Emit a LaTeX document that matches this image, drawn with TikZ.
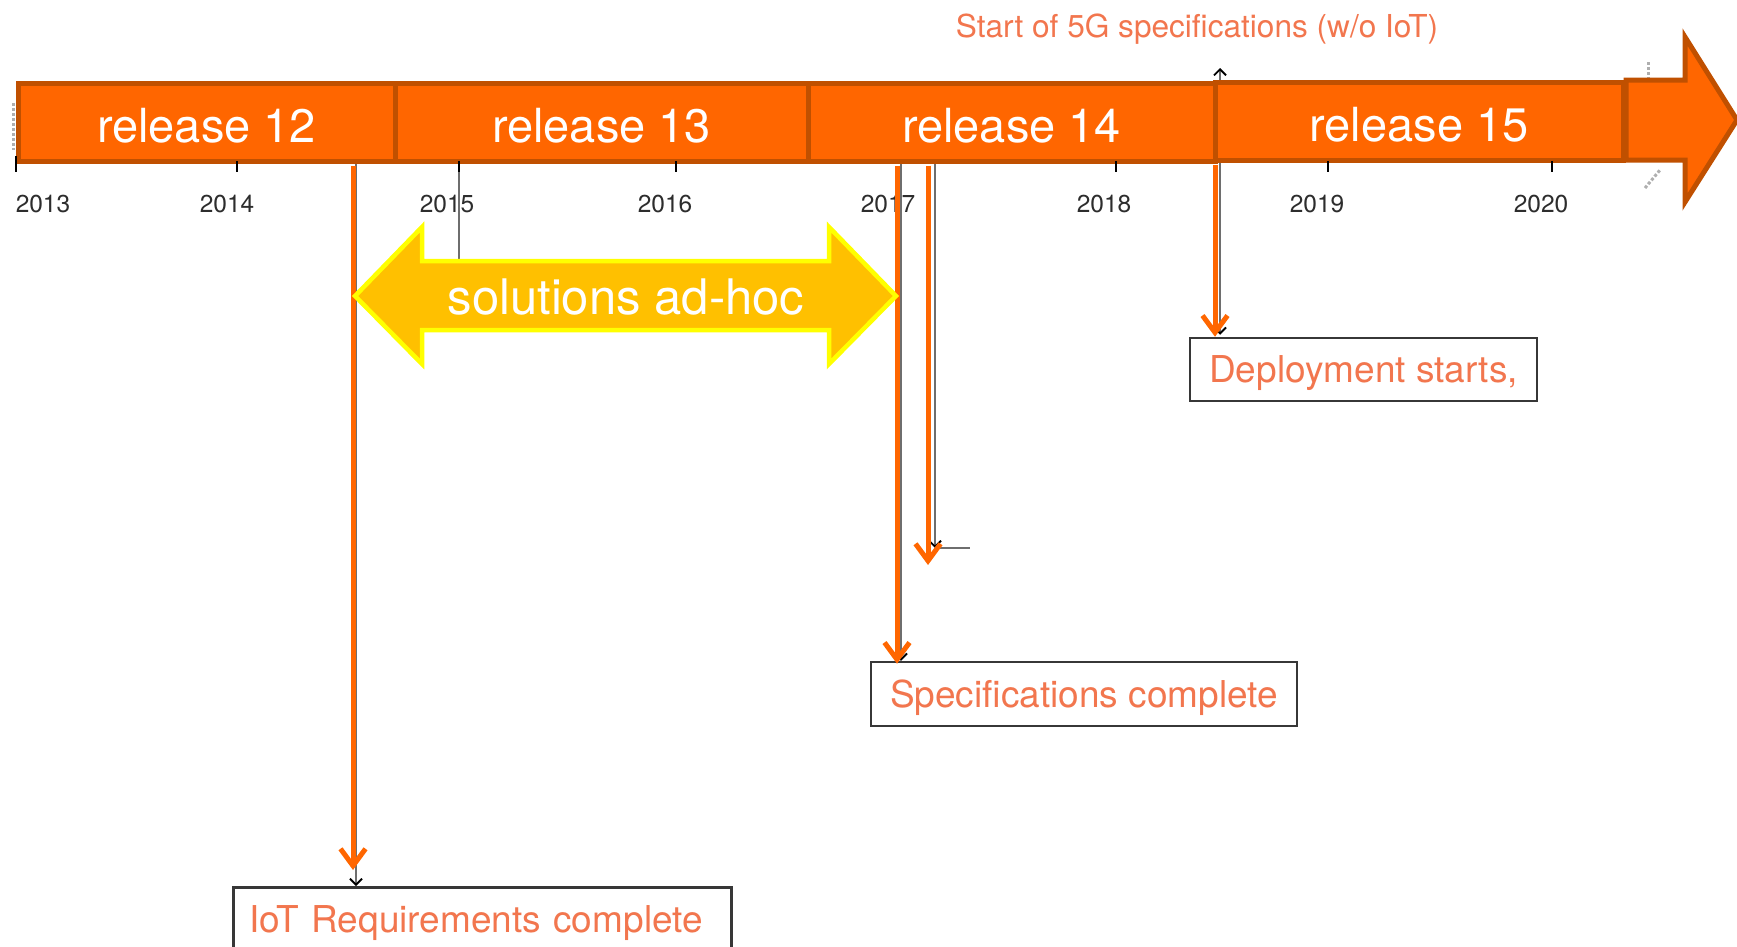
\documentclass[tikz,border=0pt]{standalone}
\usepackage{fontspec}
\setmainfont{TeX Gyre Heros}
\usetikzlibrary{arrows.meta}
\definecolor{relorange}{RGB}{255,102,0}
\definecolor{relborder}{RGB}{192,80,0}
\definecolor{salmon}{RGB}{242,118,78}
\definecolor{amber}{RGB}{255,192,0}
\definecolor{yel}{RGB}{255,255,0}
\definecolor{axisgray}{RGB}{110,110,110}
\definecolor{yeargray}{RGB}{45,45,45}
\definecolor{boxgray}{RGB}{55,55,55}
\definecolor{markgray}{RGB}{175,175,175}
\pgfdeclarelayer{bg}
\pgfsetlayers{bg,main}
\begin{document}
\begin{tikzpicture}[x=1pt,y=-1pt,
  relbox/.style={draw=relborder, fill=relorange, line width=5pt, text=white,
    font=\fontsize{47}{50}\selectfont, minimum height=78pt, inner sep=0pt,
    text height=40pt, text depth=0pt},
  yearlbl/.style={text=yeargray, font=\fontsize{24.5}{26}\selectfont, inner sep=0pt},
  tickline/.style={draw=black, line width=2pt},
  msbox/.style={draw=boxgray, line width=2.5pt, fill=white, text=salmon,
    font=\fontsize{37}{40}\selectfont, inner sep=0pt},
  oline/.style={draw=relorange, line width=5pt,
    -{Straight Barb[length=17pt,width=25pt,line width=5pt]}},
  gline/.style={draw=axisgray, line width=2pt},
  gtip/.style={-{Straight Barb[length=6pt,width=12pt,line width=1.8pt,color=black]}},
  adhocarrow/.style={fill=amber, draw=yel, line width=4.5pt, line join=miter},
  adhoctext/.style={text=white, font=\fontsize{49}{52}\selectfont, inner sep=0pt},
  edgemark/.style={draw=markgray, line width=3pt, dash pattern=on 3pt off 2pt}
]
\useasboundingbox (0,0) rectangle (1737,946);
\clip (0,0) rectangle (1737,946);

% x positions of the vertical markers
\coordinate (iotx) at (353,0);
\coordinate (iotgx) at (356,0);
\coordinate (specx) at (897,0);
\coordinate (specgx) at (901,0);
\coordinate (midx) at (928,0);
\coordinate (midgx) at (935,0);
\coordinate (depx) at (1215,0);
\coordinate (depgx) at (1220,0);
\coordinate (gcorner) at (935,548);
\coordinate (gend) at (970,548);
\coordinate (midend) at (928,565);
\coordinate (uptip) at (1220,68);

% milestone boxes
\node[msbox, anchor=north west, minimum height=72pt, text width=466pt,
      inner xsep=16pt, align=left] (iotbox) at (232,886) {IoT Requirements complete};
\node[msbox, minimum width=426pt, minimum height=64pt, text depth=0pt] (specbox) at (1084,694) {Specifications complete};
\node[msbox, minimum width=347pt, minimum height=63pt, text depth=0pt] (depbox) at (1363.5,369.5) {Deployment starts,};

% release bar
\node[relbox, minimum width=377pt] (rel12) at (206.5,122) {release 12};
\node[relbox, minimum width=413pt] (rel13) at (601.5,122) {release 13};
\node[relbox, minimum width=407pt] (rel14) at (1011.5,122) {release 14};
\node[relbox, minimum width=408pt] (rel15) at (1419,121) {release 15};
\draw[draw=relborder, fill=relorange, line width=5pt, line join=miter]
  (1626,80) -- (1685,80) -- (1685,37) -- (1737,120) -- (1685,202) -- (1685,160) -- (1626,160) -- cycle;

% grey helper lines (behind the bar)
\begin{pgfonlayer}{bg}
  \draw[gline, gtip] (rel12.south -| iotgx) -- (iotbox.north -| iotgx);
  \draw[gline, gtip] (rel14.south -| specgx) -- (specbox.north -| specgx);
  \draw[gline, gtip] (rel14.south -| midgx) -- (gcorner);
  \draw[gline] (gcorner) -- (gend);
  \draw[gline, {Straight Barb[length=6pt,width=12pt,line width=1.8pt,color=black]}-{Straight Barb[length=6pt,width=12pt,line width=1.8pt,color=black]}]
    (uptip) -- ([yshift=2pt]depbox.north -| depgx);
  \draw[edgemark] (13,103) -- (13,150);
  \draw[edgemark] (1648,62) -- (1648,115);
  \draw[edgemark] (1645,188) -- (1660,170);
\end{pgfonlayer}

% axis ticks
\draw[tickline] (16,156) -- (16,172);
\draw[tickline] (237,161) -- (237,172);
\draw[tickline] (676,161) -- (676,172);
\draw[tickline] (1116,161) -- (1116,172);
\draw[tickline] (1328,161) -- (1328,172);
\draw[tickline] (1552,161) -- (1552,172);
\draw[gline] (459,161) -- (459,262);
\draw[tickline] (459,161) -- (459,172);

% year labels
\node[yearlbl] (y2013) at (43,204) {2013};
\node[yearlbl] (y2014) at (227,204) {2014};
\node[yearlbl] (y2015) at (447,204) {2015};
\node[yearlbl] (y2016) at (665,204) {2016};
\node[yearlbl] (y2017) at (888,204) {2017};
\node[yearlbl] (y2018) at (1104,204) {2018};
\node[yearlbl] (y2019) at (1317,204) {2019};
\node[yearlbl] (y2020) at (1541,204) {2020};

% 5G label
\node[text=salmon, font=\fontsize{31.6}{34}\selectfont, inner sep=0pt] (start5g) at (1197,29) {Start of 5G specifications (w/o IoT)};

% orange milestone arrows
\draw[oline, shorten >=16pt] ([yshift=-2pt]rel12.south -| iotx) -- (iotbox.north -| iotx);
\draw[oline] ([yshift=-2pt]rel14.south -| specx) -- ([yshift=-3pt]specbox.north -| specx);
\draw[oline] ([yshift=-2pt]rel14.south -| midx) -- (midend);
\draw[oline] ([yshift=-2pt]rel15.south -| depx) -- (depbox.north -| depx);

% solutions ad-hoc double arrow
\draw[adhocarrow] (355,296) -- (422,227) -- (422,261) -- (829,261) -- (829,227) -- (896,296)
  -- (829,364) -- (829,330) -- (422,330) -- (422,364) -- cycle;
\node[adhoctext] (adhoc) at (626,297) {solutions ad-hoc};
\end{tikzpicture}
\end{document}
